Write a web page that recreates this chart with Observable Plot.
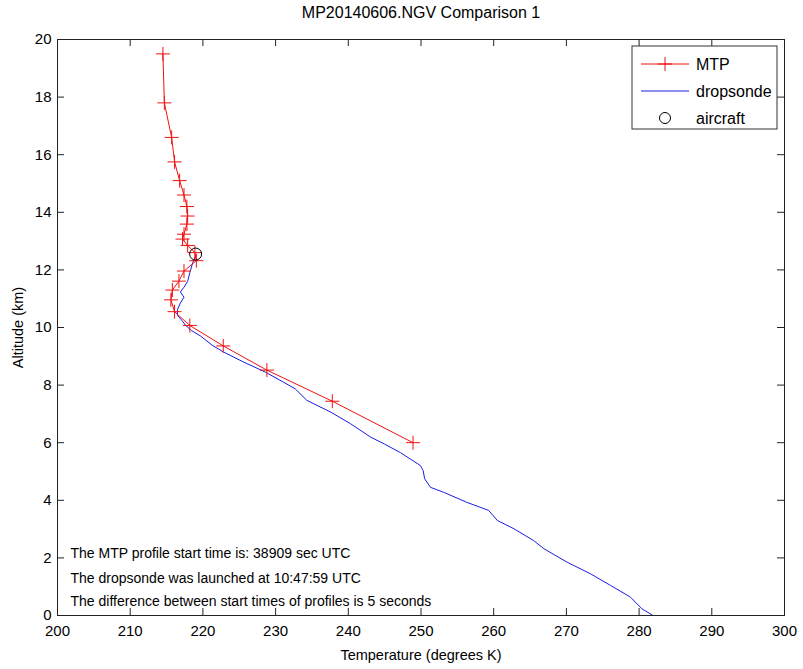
<!DOCTYPE html>
<html><head><meta charset="utf-8">
<script src="https://cdn.jsdelivr.net/npm/d3@7"></script>
<script src="https://cdn.jsdelivr.net/npm/@observablehq/plot@0.6"></script>
<style>
body{margin:0;background:#fff}
#chart svg{font-family:"Liberation Sans",Arial,Helvetica,sans-serif}
</style>
</head><body><div id="chart"></div>
<script>
// ---- data ----
const mtpTemp = [214.5,214.7,215.7,216.1,216.8,217.4,217.8,217.9,217.8,217.4,217.2,217.9,218.9,219.1,217.4,216.7,215.8,215.6,216.1,218.2,222.8,228.8,237.8,248.9];
const mtpAlt  = [19.5,17.8,16.6,15.75,15.1,14.6,14.2,13.87,13.59,13.24,13.07,12.85,12.6,12.32,11.96,11.61,11.3,10.96,10.55,10.07,9.36,8.52,7.44,6.0];

const sondeTemp = [219.0,218.6,218.2,217.9,217.4,216.9,217.4,216.9,216.5,216.5,217.1,217.6,218.4,219.7,221.3,222.9,225.6,228.6,231.1,232.7,234.3,237.6,240.3,243.1,245.0,247.2,249.9,250.3,250.5,251.3,253.1,256.3,259.3,260.5,262.8,265.5,266.9,270.1,273.3,276.1,278.8,280.4,281.8];
const sondeAlt  = [12.50,12.25,11.90,11.60,11.40,11.23,11.05,10.85,10.62,10.42,10.25,10.08,9.90,9.70,9.38,9.14,8.80,8.45,8.10,7.87,7.47,7.06,6.66,6.19,5.95,5.65,5.21,5.03,4.75,4.45,4.28,3.93,3.65,3.30,3.01,2.60,2.32,1.85,1.45,1.04,0.64,0.23,0.02];

const aircraftTemp = [219.0];
const aircraftAlt  = [12.55];

const xTicks = [200,210,220,230,240,250,260,270,280,290,300];
const yTicks = [0,2,4,6,8,10,12,14,16,18,20];

const titleText = "MP20140606.NGV Comparison 1";
const xLabel = "Temperature (degrees K)";
const yLabel = "Altitude (km)";
const notes = [
  "The MTP profile start time is: 38909 sec UTC",
  "The dropsonde was launched at 10:47:59 UTC",
  "The difference between start times of profiles is 5 seconds"
];
const legendLabels = ["MTP","dropsonde","aircraft"];

// ---- layout ----
const W = 803, H = 669, mL = 57, mR = 19, mT = 39, mB = 54;
const frameH = H - mT - mB, frameW = W - mL - mR;
const RED = "#f01010", BLUE = "#1c1ce0";

const cross = {draw(ctx, size){ const r = Math.sqrt(size/Math.PI); ctx.moveTo(-r,0); ctx.lineTo(r,0); ctx.moveTo(0,-r); ctx.lineTo(0,r); }};

const mtp = mtpTemp.map((t,i)=>({t, a: mtpAlt[i]}));
const sonde = sondeTemp.map((t,i)=>({t, a: sondeAlt[i]}));
const aircraft = aircraftTemp.map((t,i)=>({t, a: aircraftAlt[i]}));

const chart = Plot.plot({
  width: W, height: H,
  marginLeft: mL, marginRight: mR, marginTop: mT, marginBottom: mB,
  style: {background: "#fff", color: "#000", fontSize: "15px"},
  x: {domain: [200, 300]},
  y: {domain: [0, 20]},
  marks: [
    Plot.axisX(xTicks, {tickSize: 0, tickPadding: 10, label: null, fontSize: 15}),
    Plot.axisY(yTicks, {tickSize: 0, tickPadding: 6, label: null, fontSize: 15}),
    // inward ticks on all four sides
    Plot.tickX(xTicks, {x: d => d, insetTop: frameH - 7, stroke: "#222"}),
    Plot.tickX(xTicks, {x: d => d, insetBottom: frameH - 7, stroke: "#222"}),
    Plot.tickY(yTicks, {y: d => d, insetRight: frameW - 7, stroke: "#222"}),
    Plot.tickY(yTicks, {y: d => d, insetLeft: frameW - 7, stroke: "#222"}),
    Plot.line(sonde, {x: "t", y: "a", stroke: BLUE, strokeWidth: 1}),
    Plot.line(mtp, {x: "t", y: "a", stroke: RED, strokeWidth: 1}),
    Plot.dot(mtp, {x: "t", y: "a", symbol: cross, r: 7, stroke: RED, fill: "none", strokeWidth: 1}),
    Plot.dot(aircraft, {x: "t", y: "a", r: 6, stroke: "#000", fill: "none", strokeWidth: 1}),
    Plot.frame({stroke: "#222"}),
    Plot.text([titleText], {frameAnchor: "top", lineAnchor: "middle", dy: -27, fontSize: 16}),
    Plot.text([xLabel], {frameAnchor: "bottom", lineAnchor: "middle", dy: 40, fontSize: 14.5}),
    Plot.text([yLabel], {frameAnchor: "left", textAnchor: "middle", lineAnchor: "middle", dx: -39, rotate: -90, fontSize: 14.5}),
    Plot.text([notes[0]], {frameAnchor: "bottom-left", textAnchor: "start", lineAnchor: "middle", dx: 13, dy: -62, fontSize: 14}),
    Plot.text([notes[1]], {frameAnchor: "bottom-left", textAnchor: "start", lineAnchor: "middle", dx: 13, dy: -37, fontSize: 14}),
    Plot.text([notes[2]], {frameAnchor: "bottom-left", textAnchor: "start", lineAnchor: "middle", dx: 13, dy: -14, fontSize: 14})
  ]
});
document.getElementById("chart").append(chart);

// ---- legend box (top-right, inside the frame) ----
const svg = d3.select(chart);
const lg = svg.append("g").attr("font-size", 16).attr("text-anchor", "start");
const bx = W - mR - 152, by = mT + 7, bw = 145, bh = 83;
lg.append("rect").attr("x", bx).attr("y", by).attr("width", bw).attr("height", bh)
  .attr("fill", "#fff").attr("stroke", "#333");
const rows = [by + 18, by + 45, by + 72];
const lx1 = bx + 9, lx2 = bx + 57, lxc = (lx1 + lx2) / 2, tx = bx + 64;
// MTP
lg.append("line").attr("x1", lx1).attr("x2", lx2).attr("y1", rows[0]).attr("y2", rows[0]).attr("stroke", RED);
lg.append("path").attr("d", `M${lxc-7},${rows[0]}H${lxc+7}M${lxc},${rows[0]-7}V${rows[0]+7}`).attr("stroke", RED);
// dropsonde
lg.append("line").attr("x1", lx1).attr("x2", lx2).attr("y1", rows[1]).attr("y2", rows[1]).attr("stroke", BLUE);
// aircraft
lg.append("circle").attr("cx", lxc).attr("cy", rows[2]).attr("r", 5.5).attr("fill", "none").attr("stroke", "#000");
legendLabels.forEach((s, i) => {
  lg.append("text").attr("x", tx).attr("y", rows[i]).attr("dy", "0.35em").attr("text-anchor", "start").attr("fill", "#000").text(s);
});
</script>
</body></html>
